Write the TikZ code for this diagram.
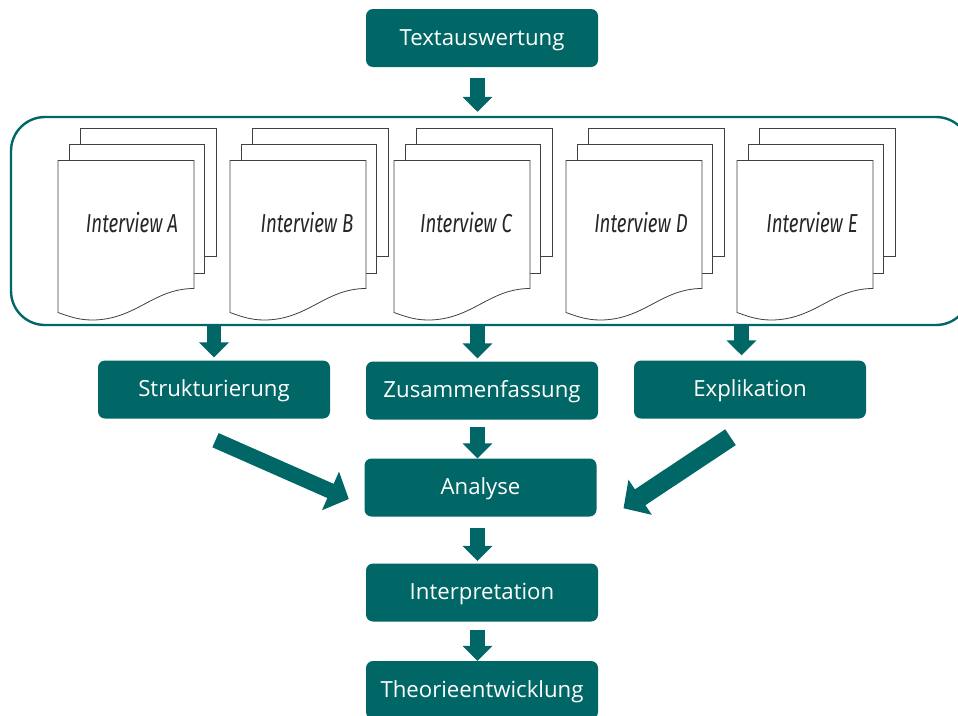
\documentclass[tikz,border=0pt]{standalone}
\usepackage{fontspec}
\setmainfont{Open Sans}
\newfontfamily\docfont[FakeStretch=0.72]{Fira Sans}
\usetikzlibrary{arrows.meta}
\definecolor{petrol}{HTML}{006666}
\tikzset{
 stepbox/.style={fill=petrol,text=white,rounded corners=7,minimum width=232,minimum height=58,inner sep=0,text height=18,text depth=4,font=\fontsize{22.2}{26}\selectfont},
 bigarrow/.style={draw=petrol,line width=14.5,-{Triangle[length=15,width=29]}},
 slantarrow/.style={draw=petrol,line width=15.5,-{Triangle[length=20,width=41]}},
 sheet/.style={draw=black!75,fill=white,line width=.8},
 doclabel/.style={font=\docfont\itshape\fontsize{26}{30}\selectfont,text=black!85}
}
\begin{document}
\begin{tikzpicture}[x=1pt,y=-1pt]
\useasboundingbox (0,0) rectangle (958,715);
\node[draw=petrol,line width=2.4,rounded corners=34,minimum width=959,minimum height=208,inner sep=0] (frame) at (490.5,221) {};
\foreach \x/\tx/\name in {58/132/A,230/307/B,394/466/C,566/641/D,737/812/E} {
 \draw[sheet] (\x+22,128) rectangle ++(136,128);
 \draw[sheet] (\x+11.5,144) rectangle ++(134.5,129);
 \draw[sheet] (\x,160.5) -- ++(136,0) -- ++(0,128) .. controls (\x+95,288.5) and (\x+78,320) .. (\x+34,320) .. controls (\x+20,320) and (\x+10,316) .. (\x,312.5) -- cycle;
 \node[doclabel] (doc\name) at (\tx,223) {Interview \name};
}
\node[stepbox] (text) at (482,38) {Textauswertung};
\node[stepbox] (struk) at (214,389.5) {Strukturierung};
\node[stepbox] (zus) at (482,390.5) {Zusammenfassung};
\node[stepbox] (expl) at (750,389.5) {Explikation};
\node[stepbox] (ana) at (480.5,487.5) {Analyse};
\node[stepbox] (inter) at (482,592.5) {Interpretation};
\node[stepbox] (theo) at (482,690) {Theorieentwicklung};
\coordinate (mid) at (477.5,0);
\coordinate (left) at (214,0);
\coordinate (right) at (741.5,0);
\draw[bigarrow,shorten <=11,shorten >=4] (text.south -| mid) -- (frame.north -| mid);
\draw[bigarrow,shorten >=3] (frame.south -| left) -- (struk.north -| left);
\draw[bigarrow,shorten >=3] (frame.south -| mid) -- (zus.north -| mid);
\draw[bigarrow,shorten >=5] (frame.south -| right) -- (expl.north -| right);
\draw[bigarrow,shorten <=7.5] (zus.south -| mid) -- (ana.north -| mid);
\draw[bigarrow,shorten <=11.5,shorten >=2.5] (ana.south -| mid) -- (inter.north -| mid);
\draw[bigarrow,shorten <=8.5] (inter.south -| mid) -- (theo.north -| mid);
\coordinate (h1) at ([xshift=1.5,yshift=-21.5]struk.south);
\coordinate (h2) at ([xshift=-15.5,yshift=-11.5]ana.west);
\coordinate (i1) at ([xshift=-19.5,yshift=-18.5]expl.south);
\coordinate (i2) at ([xshift=26.8,yshift=-20.8]ana.east);
\draw[slantarrow] (h1) -- (h2);
\draw[slantarrow,line width=19] (i1) -- (i2);
\end{tikzpicture}
\end{document}
